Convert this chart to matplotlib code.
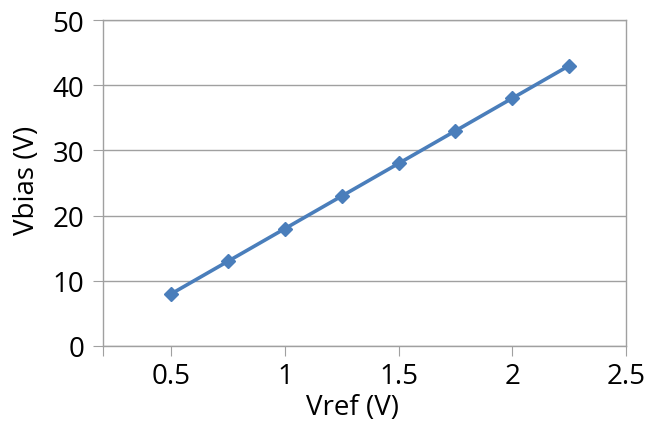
import matplotlib
matplotlib.use("Agg")
import matplotlib.pyplot as plt

vref = [0.5, 0.75, 1.0, 1.25, 1.5, 1.75, 2.0, 2.25]
vbias = [8, 13, 18, 23, 28, 33, 38, 43]

x_ticks = [0.2, 0.5, 1.0, 1.5, 2.0, 2.5]
x_labels = ["", "0.5", "1", "1.5", "2", "2.5"]
y_ticks = [0, 10, 20, 30, 40, 50]

plt.rcParams["font.family"] = ["Open Sans", "DejaVu Sans"]

fig = plt.figure(figsize=(6.45, 4.35), dpi=100)
ax = fig.add_axes([103 / 645, 1 - 347 / 435, (626 - 103) / 645, (347 - 21) / 435])

ax.plot(vref, vbias, c="#4a7ebb", lw=2.6, marker="D", markersize=7, zorder=3)

ax.set_xlim(0.2, 2.5)
ax.set_ylim(0, 50)
ax.set_xticks(x_ticks)
ax.set_xticklabels(x_labels)
ax.set_yticks(y_ticks)

ax.grid(axis="y", color="#a0a0a0", lw=1)
ax.set_axisbelow(True)
for side in ["left", "bottom", "right", "top"]:
    ax.spines[side].set_color("#a0a0a0")
    ax.spines[side].set_linewidth(1)

ax.tick_params(axis="both", which="major", labelsize=20, length=7.5, color="#a0a0a0",
               direction="out", pad=6)
ax.tick_params(axis="x", pad=4)

ax.set_xlabel("Vref (V)", fontsize=20)
ax.set_ylabel("Vbias (V)", fontsize=20)
ax.xaxis.set_label_coords(0.477, -0.145)
ax.yaxis.set_label_coords(-0.118, 0.51)

fig.savefig("out.png", dpi=100)
